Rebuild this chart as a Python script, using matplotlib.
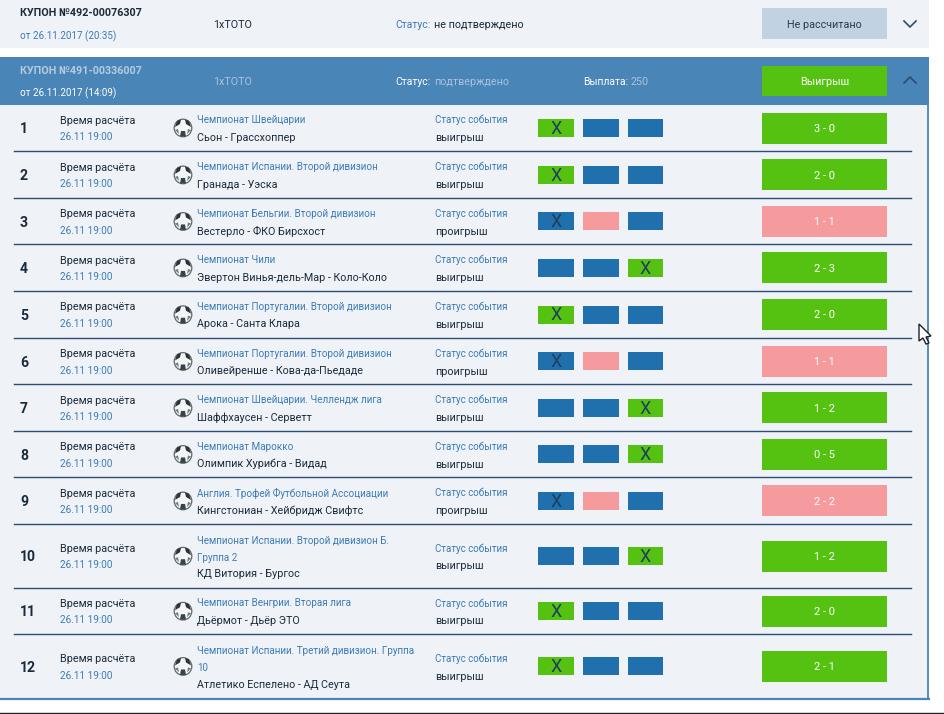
import matplotlib
matplotlib.use("Agg")
import matplotlib.pyplot as plt
from matplotlib.patches import Rectangle, Circle, Polygon

plt.rcParams['font.family'] = ['Roboto', 'DejaVu Sans']

numbers = [1, 2, 3, 4, 5, 6, 7, 8, 9, 10, 11, 12]
leagues = [
    ["Чемпионат Швейцарии"],
    ["Чемпионат Испании. Второй дивизион"],
    ["Чемпионат Бельгии. Второй дивизион"],
    ["Чемпионат Чили"],
    ["Чемпионат Португалии. Второй дивизион"],
    ["Чемпионат Португалии. Второй дивизион"],
    ["Чемпионат Швейцарии. Челлендж лига"],
    ["Чемпионат Марокко"],
    ["Англия. Трофей Футбольной Ассоциации"],
    ["Чемпионат Испании. Второй дивизион Б.", "Группа 2"],
    ["Чемпионат Венгрии. Вторая лига"],
    ["Чемпионат Испании. Третий дивизион. Группа", "10"],
]
teams = [
    "Сьон - Грассхоппер", "Гранада - Уэска", "Вестерло - ФКО Бирсхост",
    "Эвертон Винья-дель-Мар - Коло-Коло", "Арока - Санта Клара",
    "Оливейренше - Кова-да-Пьедаде", "Шаффхаусен - Серветт",
    "Олимпик Хурибга - Видад", "Кингстониан - Хейбридж Свифтс",
    "КД Витория - Бургос", "Дьёрмот - Дьёр ЭТО", "Атлетико Еспелено - АД Сеута",
]
results = ["выигрыш", "выигрыш", "проигрыш", "выигрыш", "выигрыш", "проигрыш",
           "выигрыш", "выигрыш", "проигрыш", "выигрыш", "выигрыш", "выигрыш"]
picks = [0, 0, 0, 2, 0, 0, 2, 2, 0, 2, 0, 0]
outcomes = [0, 0, 1, 2, 0, 1, 2, 2, 1, 2, 0, 0]
scores = ["3 - 0", "2 - 0", "1 - 1", "2 - 3", "2 - 0", "1 - 1",
          "1 - 2", "0 - 5", "2 - 2", "1 - 2", "2 - 0", "2 - 1"]
row_edges = [105, 151, 197.5, 244, 290.5, 337.5, 384, 430.5, 477, 523.5, 587.5, 633.5, 698]

GREEN = "#55c212"
BLUE = "#1f70ad"
PINK = "#f59a9d"
HEAD = "#4a85b8"
PANEL = "#eff2f6"
LINE = "#2a4d72"
LINK = "#3b7cb8"
DARK = "#1b2a3a"
px = 0.72  # css px -> pt at dpi 100

fig = plt.figure(figsize=(9.45, 7.14), dpi=100)
ax = fig.add_axes([0, 0, 1, 1])
ax.set_xlim(0, 945)
ax.set_ylim(714, 0)
ax.axis("off")


def box(x, y, w, h, c, z=1):
    ax.add_patch(Rectangle((x, y), w, h, fc=c, ec="none", zorder=z))


def label(x, y, s, size=10.8, c=DARK, ha="left", w="normal"):
    ax.text(x, y + 1.2, s, fontsize=size * px, color=c, ha=ha, va="center", fontweight=w, zorder=5)


def chevron(x, y, up, c):
    d = -3 if up else 3
    ax.plot([x - 6, x, x + 6], [y - d, y + d, y - d], color=c, lw=1.2, zorder=5)


def ball(x, y):
    ax.add_patch(Circle((x, y), 8.8, fc="#f4f6f6", ec="#5d6a70", lw=0.9, zorder=3))
    ax.add_patch(Polygon([(x - 6, y - 7), (x - 2, y - 8.5), (x - 3, y - 4), (x - 8, y - 1)], fc="#2b3238", zorder=4))
    ax.add_patch(Polygon([(x + 6, y - 7), (x + 2, y - 8.5), (x + 3, y - 4), (x + 8, y - 1)], fc="#2b3238", zorder=4))
    ax.add_patch(Polygon([(x - 8, y + 2), (x - 5, y + 1), (x - 4, y + 6)], fc="#6f7c80", zorder=4))
    ax.add_patch(Polygon([(x + 8, y + 2), (x + 5, y + 1), (x + 4, y + 6)], fc="#6f7c80", zorder=4))
    ax.add_patch(Polygon([(x - 2, y + 3), (x + 2, y + 3), (x + 3, y + 8.5), (x - 3, y + 8.5)], fc="#3a4448", zorder=4))


# top coupon
box(0, 0, 929, 48, PANEL)
label(20, 12, "КУПОН №492-00076307", 10.8, DARK, w="bold")
label(20, 35, "от 26.11.2017 (20:35)", 9.9, LINK)
label(213, 23.5, "1хТОТО")
label(395, 23.5, "Статус:", 10.4, LINK)
label(434, 23.5, "не подтверждено")
box(762, 8, 125, 31, "#c1d3e3", 2)
label(824.5, 23.5, "Не рассчитано", 10.8, "#2b3b4d", ha="center")
chevron(910, 24, False, LINE)

# opened coupon
box(0, 57, 929, 48, HEAD)
label(20, 69.5, "КУПОН №491-00336007", 10.8, "#b5cbdf", w="bold")
label(20, 92, "от 26.11.2017 (14:09)", 9.9, "white")
label(213, 80.5, "1хТОТО", 10.8, "#a9c4dc")
label(395, 80.5, "Статус:", 10.4, "white")
label(434, 80.5, "подтверждено", 10.8, "#a9c4dc")
label(583, 80.5, "Выплата:", 10.4, "white")
label(631, 80.5, "250", 10.8, "#a9c4dc")
box(762, 66, 125, 30, GREEN, 2)
label(824.5, 80.5, "Выигрыш", 10.8, "white", ha="center")
chevron(910, 80, True, LINE)

# panel with the rows
box(0, 105, 928, 593, PANEL, 0)
ax.plot([928, 928], [105, 698], color=HEAD, lw=1.3, zorder=2)
ax.plot([0, 929], [698.5, 698.5], color=HEAD, lw=1.6, zorder=2)
ax.plot([0, 945], [713.2, 713.2], color="#222222", lw=1.0, zorder=2)

pick_x = [538, 583, 628]
pick_w = [36, 36, 35]
for i, n in enumerate(numbers):
    top, bot = row_edges[i], row_edges[i + 1]
    mid = (top + bot) / 2
    if i > 0:
        mid += 0.7
    if i < len(numbers) - 1:
        ax.plot([14, 911], [bot, bot], color=LINE, lw=1.0, zorder=2)
    label(20, mid, str(n), 14, DARK, w="bold")
    label(60, mid - 8.5, "Время расчёта")
    label(60, mid + 8, "26.11 19:00", 10, LINK)
    ball(183, mid)
    lines = leagues[i]
    if len(lines) == 1:
        label(197, mid - 9, lines[0], 9.85, LINK)
        label(197, mid + 8.5, teams[i], 10.7)
    else:
        label(197, mid - 16.5, lines[0], 9.85, LINK)
        label(197, mid + 0.5, lines[1], 9.85, LINK)
        label(197, mid + 17, teams[i], 10.7)
    label(435, mid - 9, "Статус события", 9.8, LINK)
    label(435, mid + 9, results[i], 10.8)
    won = results[i] == "выигрыш"
    for j in range(3):
        c = BLUE
        if j == outcomes[i]:
            c = GREEN if won else PINK
        box(pick_x[j], mid - 9, pick_w[j], 18, c, 2)
    label(pick_x[picks[i]] + pick_w[picks[i]] / 2, mid - 0.5, "X", 18, "#1d3f5e", ha="center")
    box(762, mid - 15.5, 125, 31, GREEN if won else PINK, 2)
    label(824.5, mid - 0.5, scores[i], 11, "white", ha="center")

# mouse pointer
ax.add_patch(Polygon([(919, 324), (919, 341), (923, 338), (926, 344), (929, 343), (926, 337), (931, 336)],
                     fc="white", ec="#222222", lw=1.0, zorder=6))

fig.savefig("out.png", dpi=100)
